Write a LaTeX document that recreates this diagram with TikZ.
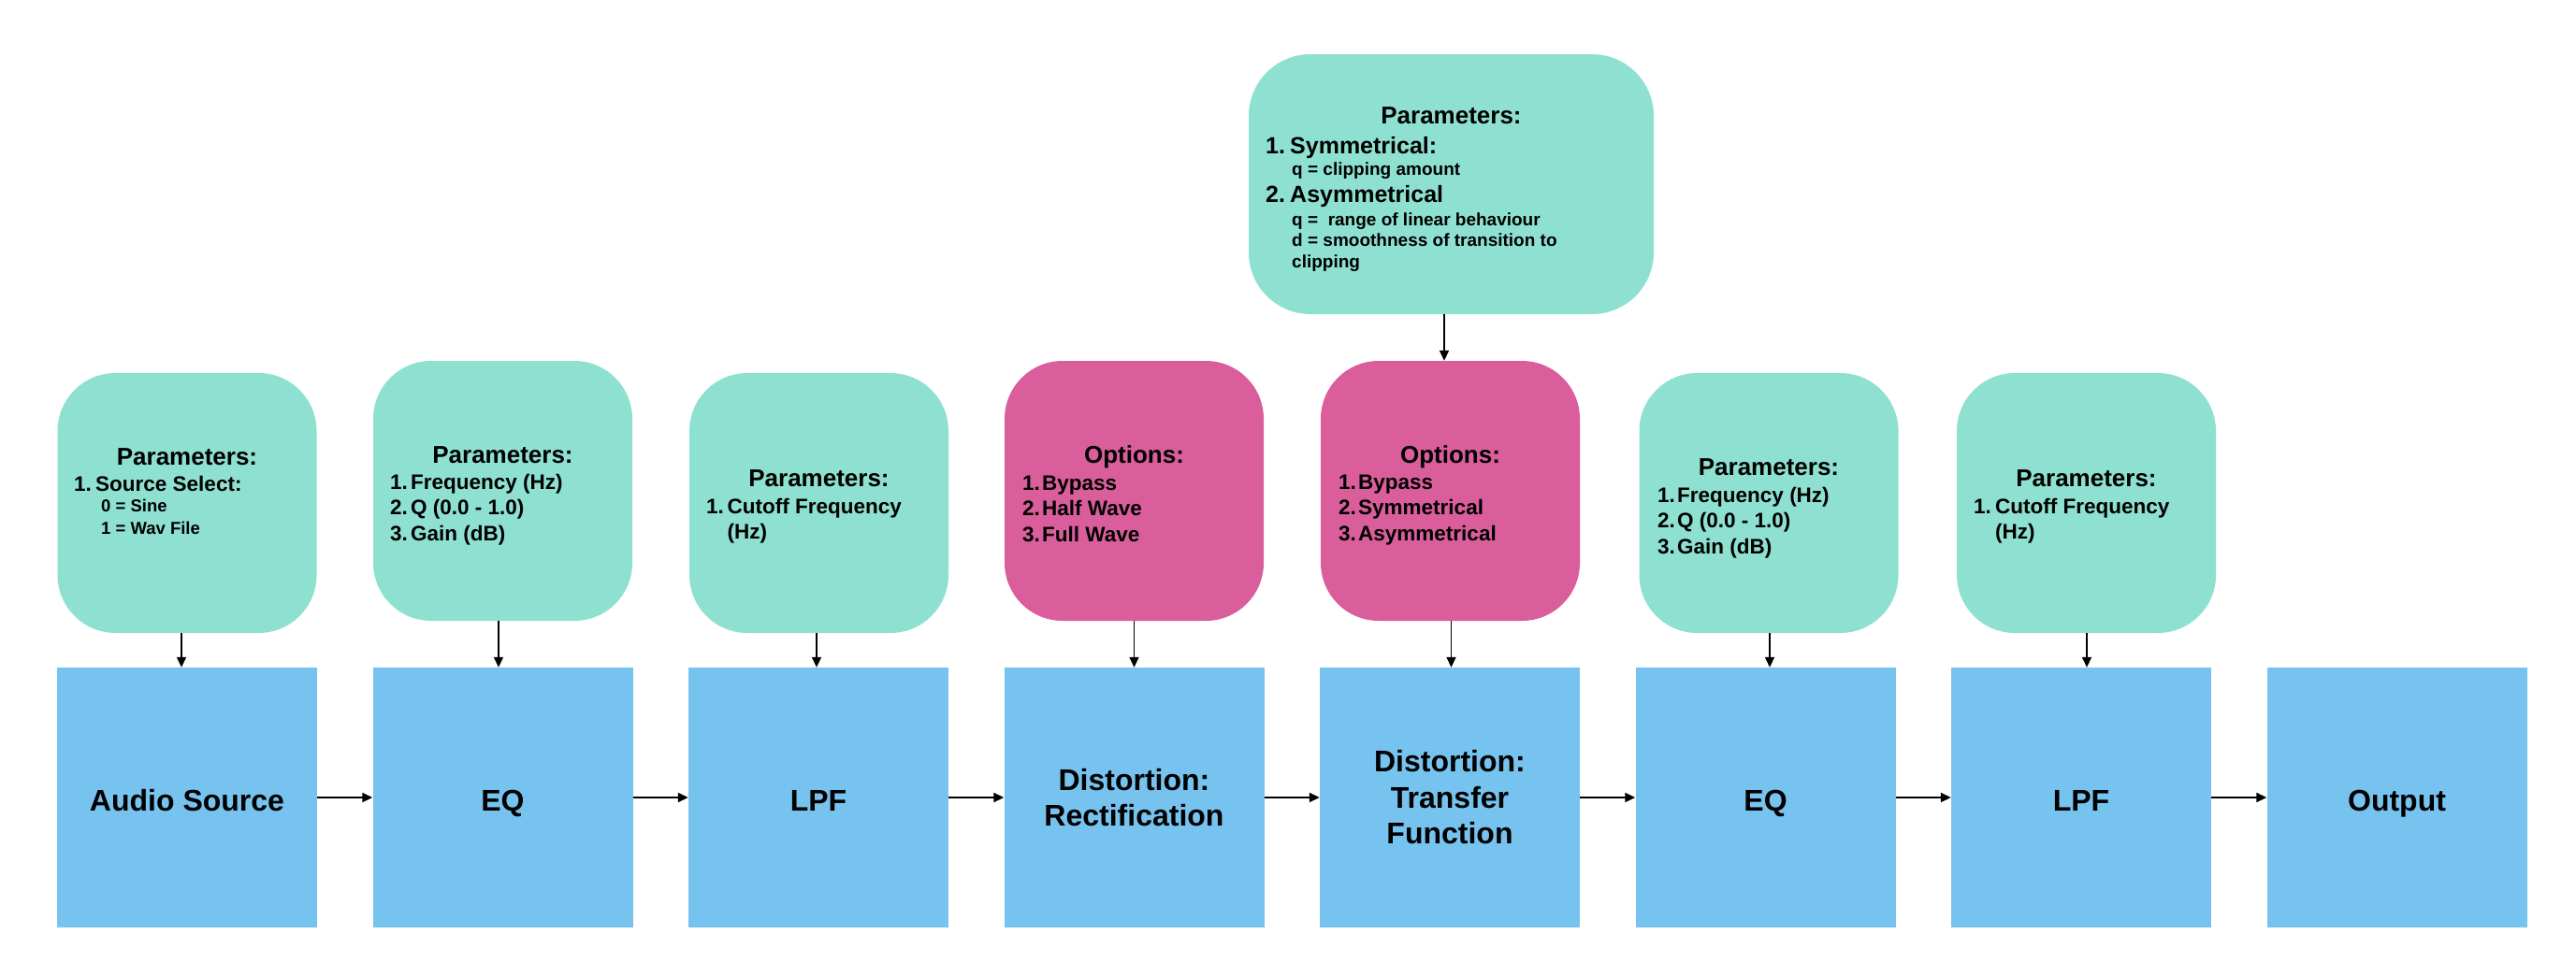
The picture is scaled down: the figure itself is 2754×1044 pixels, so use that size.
\documentclass[tikz,border=0pt]{standalone}
\usepackage{fontspec}
\setmainfont{Liberation Sans}
\usetikzlibrary{arrows.meta}
\definecolor{paramcol}{HTML}{8EE1D1}
\definecolor{optcol}{HTML}{D95E9B}
\definecolor{blockcol}{HTML}{77C3F0}
\newcommand\nb[2]{\makebox[#1][l]{#2}}
\newcommand\blk[1]{\parbox[t]{500pt}{\raggedright #1}}
\tikzset{
  blockbox/.style={fill=blockcol, minimum width=278pt, minimum height=278pt, inner sep=0pt,
    font=\fontsize{32}{38.5}\selectfont\bfseries, align=center},
  oneline/.style={text height=30pt, text depth=2pt},
  parambox/.style={fill=paramcol, rounded corners=62pt, minimum width=277pt, minimum height=278pt, inner sep=0pt},
  optbox/.style={parambox, fill=optcol},
  head/.style={anchor=base, inner sep=0pt, font=\fontsize{26}{30}\selectfont\bfseries},
  itm/.style={anchor=base west, inner sep=0pt, font=\fontsize{22.5}{27.5}\selectfont\bfseries},
  subitm/.style={anchor=base west, inner sep=0pt, font=\fontsize{18.5}{24}\selectfont\bfseries},
  bigitm/.style={anchor=base west, inner sep=0pt, font=\fontsize{25}{30}\selectfont\bfseries},
  tsub/.style={anchor=base west, inner sep=0pt, font=\fontsize{19}{22.5}\selectfont\bfseries},
  arr/.style={-{Triangle[length=11pt,width=10pt]}, line width=1.6pt},
}
\begin{document}
\begin{tikzpicture}[x=1pt,y=-1pt]
\useasboundingbox (0,0) rectangle (2754,1044);

% main blocks
\node[blockbox, oneline] (b0) at (200,853) {Audio Source};
\node[blockbox, oneline] (b1) at (537.5,853) {EQ};
\node[blockbox, oneline] (b2) at (875,853) {LPF};
\node[blockbox] (b3) at (1212.5,853) {Distortion:\\Rectification};
\node[blockbox] (b4) at (1550,853) {Distortion:\\Transfer\\Function};
\node[blockbox, oneline] (b5) at (1887.5,853) {EQ};
\node[blockbox, oneline] (b6) at (2225,853) {LPF};
\node[blockbox, oneline] (b7) at (2562.5,853) {Output};

% parameter / option boxes
\node[parambox] (p0) at (200,538) {};
\node[parambox] (p1) at (537.5,525) {};
\node[parambox] (p2) at (875.5,538) {};
\node[optbox]   (p3) at (1212.5,525) {};
\node[optbox]   (p4) at (1550.5,525) {};
\node[parambox] (p5) at (1891,538) {};
\node[parambox] (p6) at (2230.5,538) {};
\node[parambox, minimum width=433pt, rounded corners=66pt] (T) at (1551.5,197) {};

% texts p0
\node[head] (h0) at (200,497) {Parameters:};
\node[itm] (i0) at (79,525) {\blk{\nb{23pt}{1.}Source Select:}};
\node[subitm] (s0) at (108,547) {\blk{0 = Sine\\1 = Wav File}};
% p1
\node[head] (h1) at (537.5,495) {Parameters:};
\node[itm] (i1) at (417,523) {\blk{\nb{22pt}{1.}Frequency (Hz)\\\nb{22pt}{2.}Q (0.0 - 1.0)\\\nb{22pt}{3.}Gain (dB)}};
% p2
\node[head] (h2) at (875.5,520) {Parameters:};
\node[itm] (i2) at (755,549) {\blk{\nb{22.5pt}{1.}Cutoff Frequency\\\hspace*{22.5pt}(Hz)}};
% p3
\node[head] (h3) at (1212.5,495) {Options:};
\node[itm] (i3) at (1093,524) {\blk{\nb{21pt}{1.}Bypass\\\nb{21pt}{2.}Half Wave\\\nb{21pt}{3.}Full Wave}};
% p4
\node[head] (h4) at (1550.5,495) {Options:};
\node[itm] (i4) at (1431,523) {\blk{\nb{21pt}{1.}Bypass\\\nb{21pt}{2.}Symmetrical\\\nb{21pt}{3.}Asymmetrical}};
% p5
\node[head] (h5) at (1891,508) {Parameters:};
\node[itm] (i5) at (1772,537) {\blk{\nb{21pt}{1.}Frequency (Hz)\\\nb{21pt}{2.}Q (0.0 - 1.0)\\\nb{21pt}{3.}Gain (dB)}};
% p6
\node[head] (h6) at (2230.5,520) {Parameters:};
\node[itm] (i6) at (2110,549) {\blk{\nb{23pt}{1.}Cutoff Frequency\\\hspace*{23pt}(Hz)}};
% top box
\node[head] (hT) at (1551.5,132) {Parameters:};
\node[bigitm] (t1) at (1353,164) {\nb{26pt}{1.}Symmetrical:};
\node[tsub] (t2) at (1381,187) {q = clipping amount};
\node[bigitm] (t3) at (1353,216) {\nb{26pt}{2.}Asymmetrical};
\node[tsub] (t4) at (1381,241) {\blk{q = \ range of linear behaviour\\d = smoothness of transition to\\clipping}};

% horizontal connectors
\draw[arr] (b0.east) -- (b1.west);
\draw[arr] (b1.east) -- (b2.west);
\draw[arr] (b2.east) -- (b3.west);
\draw[arr] (b3.east) -- (b4.west);
\draw[arr] (b4.east) -- (b5.west);
\draw[arr] (b5.east) -- (b6.west);
\draw[arr] (b6.east) -- (b7.west);

% vertical connectors
\coordinate (a0) at ([xshift=-6pt]p0.south);
\coordinate (a1) at ([xshift=-4.5pt]p1.south);
\coordinate (a2) at ([xshift=-2.5pt]p2.south);
\coordinate (a3) at (p3.south);
\coordinate (a4) at ([xshift=1pt]p4.south);
\coordinate (a5) at ([xshift=1pt]p5.south);
\coordinate (a6) at ([xshift=0.5pt]p6.south);
\coordinate (aT) at ([xshift=-7.5pt]T.south);
\draw[arr] (a0) -- (a0 |- b0.north);
\draw[arr] (a1) -- (a1 |- b1.north);
\draw[arr] (a2) -- (a2 |- b2.north);
\draw[arr] (a3) -- (a3 |- b3.north);
\draw[arr] (a4) -- (a4 |- b4.north);
\draw[arr] (a5) -- (a5 |- b5.north);
\draw[arr] (a6) -- (a6 |- b6.north);
\draw[arr] (aT) -- (aT |- p4.north);
\end{tikzpicture}
\end{document}
